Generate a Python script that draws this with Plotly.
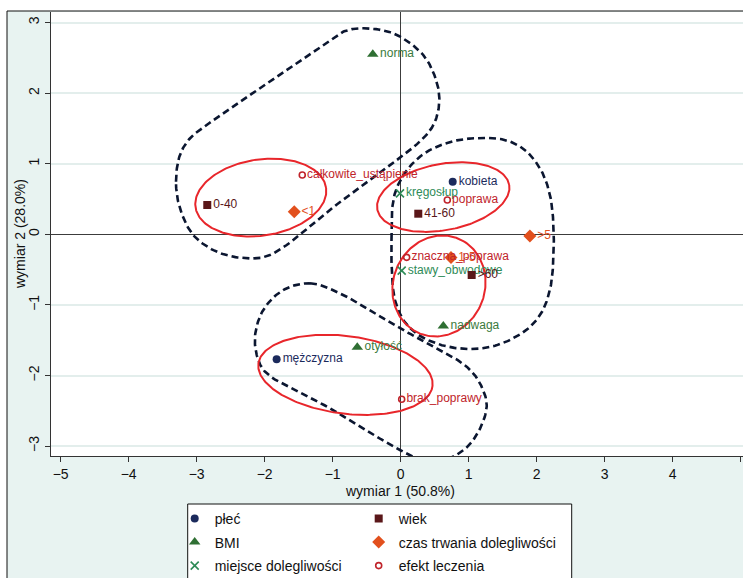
import numpy as np
import plotly.graph_objects as go

# ---- category coordinates (dimension 1, dimension 2) ----
plec_lab = ["kobieta", "mężczyzna"]
plec_x = [0.765, -1.824]
plec_y = [0.745, -1.771]

bmi_lab = ["norma", "nadwaga", "otyłość"]
bmi_x = [-0.41, 0.627, -0.638]
bmi_y = [2.55, -1.30, -1.60]

miejsce_lab = ["kręgosłup", "stawy_obwodowe"]
miejsce_x = [-0.01, 0.015]
miejsce_y = [0.58, -0.515]

wiek_lab = ["0-40", "41-60", ">60"]
wiek_x = [-2.844, 0.259, 1.044]
wiek_y = [0.415, 0.292, -0.576]

czas_lab = ["<1", "1-5", ">5"]
czas_x = [-1.565, 0.74, 1.90]
czas_y = [0.32, -0.33, -0.024]

efekt_lab = ["całkowite_ustąpienie", "poprawa", "znaczna_poprawa", "brak_poprawy"]
efekt_x = [-1.447, 0.686, 0.088, 0.015]
efekt_y = [0.84, 0.486, -0.326, -2.337]

# ---- cluster outlines (dashed) ----
hullA_x = [-3.304, -3.246, -3.099, -2.853, -1.947, -1.040, -0.844, -0.599, -0.109, 0.332,
           0.529, 0.568, 0.504, 0.332, -0.794, -1.922, -2.265, -2.706, -3.050, -3.246]
hullA_y = [0.745, 1.123, 1.360, 1.548, 2.150, 2.752, 2.870, 2.918, 2.847, 2.540,
           2.161, 1.878, 1.595, 1.360, 0.533, -0.293, -0.340, -0.246, -0.010, 0.368]

hullB_x = [-0.135, -0.128, -0.069, 0.093, 0.357, 0.725, 1.137, 1.534, 1.828, 2.063, 2.196, 2.247,
           2.247, 2.210, 2.093, 1.901, 1.607, 1.313, 1.019, 0.651, 0.284, 0.049, -0.084, -0.128]
hullB_y = [-0.081, 0.344, 0.627, 0.911, 1.152, 1.307, 1.364, 1.336, 1.194, 0.911, 0.557, 0.132,
           -0.293, -0.718, -1.072, -1.313, -1.497, -1.596, -1.625, -1.582, -1.440, -1.228, -0.931, -0.576]

hullC_x = [-1.334, -0.941, -0.010, 0.578, 0.971, 1.166, 1.265, 1.068, 0.774, 0.431, -0.010,
           -0.991, -1.971, -2.094, -2.143, -2.021, -1.726]
hullC_y = [-0.694, -0.813, -1.331, -1.639, -1.875, -2.110, -2.442, -2.914, -3.150, -3.235, -3.055,
           -2.489, -1.969, -1.780, -1.450, -1.072, -0.789]

# ---- confidence ellipses: centre x, centre y, semi-axis a, semi-axis b, angle (deg) ----
ell_cx = [-2.057, 0.626, 0.563, -0.812]
ell_cy = [0.521, 0.528, -0.732, -1.990]
ell_a = [0.97, 0.985, 0.73, 1.29]
ell_b = [0.54, 0.47, 0.67, 0.55]
ell_ang = [8, 10, 60, -7]

FONT = "Liberation Sans, Arial, sans-serif"


def closed_curve(xs, ys, per=16, alpha=0.5):
    """Closed centripetal Catmull-Rom curve through the outline vertices."""
    P = np.column_stack([xs, ys]).astype(float)
    n = len(P)
    segs = []
    for i in range(n):
        p0, p1, p2, p3 = P[(i - 1) % n], P[i], P[(i + 1) % n], P[(i + 2) % n]
        t0 = 0.0
        t1 = t0 + np.linalg.norm(p1 - p0) ** alpha
        t2 = t1 + np.linalg.norm(p2 - p1) ** alpha
        t3 = t2 + np.linalg.norm(p3 - p2) ** alpha
        t = np.linspace(t1, t2, per, endpoint=False)[:, None]
        a1 = (t1 - t) / (t1 - t0) * p0 + (t - t0) / (t1 - t0) * p1
        a2 = (t2 - t) / (t2 - t1) * p1 + (t - t1) / (t2 - t1) * p2
        a3 = (t3 - t) / (t3 - t2) * p2 + (t - t2) / (t3 - t2) * p3
        b1 = (t2 - t) / (t2 - t0) * a1 + (t - t0) / (t2 - t0) * a2
        b2 = (t3 - t) / (t3 - t1) * a2 + (t - t1) / (t3 - t1) * a3
        segs.append((t2 - t) / (t2 - t1) * b1 + (t - t1) / (t2 - t1) * b2)
    out = np.vstack(segs + [P[:1]])
    return out[:, 0], out[:, 1]


def ellipse(cx, cy, a, b, ang, n=240):
    t = np.linspace(0, 2 * np.pi, n)
    r = np.deg2rad(ang)
    x = cx + a * np.cos(t) * np.cos(r) - b * np.sin(t) * np.sin(r)
    y = cy + a * np.cos(t) * np.sin(r) + b * np.sin(t) * np.cos(r)
    return x, y


fig = go.Figure()

for hx, hy in [(hullA_x, hullA_y), (hullB_x, hullB_y), (hullC_x, hullC_y)]:
    cx, cy = closed_curve(hx, hy)
    fig.add_trace(go.Scatter(x=cx, y=cy, mode="lines", showlegend=False, hoverinfo="skip",
                             line=dict(color="#0b1630", width=2.6, dash="7px,4px")))

for i in range(len(ell_cx)):
    ex, ey = ellipse(ell_cx[i], ell_cy[i], ell_a[i], ell_b[i], ell_ang[i])
    fig.add_trace(go.Scatter(x=ex, y=ey, mode="lines", showlegend=False, hoverinfo="skip",
                             line=dict(color="#e8262b", width=2)))

groups = [
    # name, labels, x, y, symbol, size, marker colour, text colour, legend
    ("płeć", plec_lab, plec_x, plec_y, "circle", 8, "#1b2a5c", "#1b2a5c", "legend"),
    ("BMI", bmi_lab, bmi_x, bmi_y, "triangle-up", 10, "#2f6f33", "#3a7a3c", "legend"),
    ("miejsce dolegliwości", miejsce_lab, miejsce_x, miejsce_y, "x-thin", 8, "#2e8b57", "#2e8b57", "legend"),
    ("wiek", wiek_lab, wiek_x, wiek_y, "square", 8, "#5a1719", "#5a1719", "legend2"),
    ("czas trwania dolegliwości", czas_lab, czas_x, czas_y, "diamond", 10, "#e2501d", "#e2501d", "legend2"),
    ("efekt leczenia", efekt_lab, efekt_x, efekt_y, "circle-open", 6, "#c0242b", "#c0242b", "legend2"),
]

for name, lab, gx, gy, sym, size, mcol, tcol, leg in groups:
    marker = dict(symbol=sym, size=size, color=mcol)
    if sym in ("x-thin", "circle-open"):
        marker["line"] = dict(color=mcol, width=1.6)
    fig.add_trace(go.Scatter(
        x=gx, y=gy, mode="markers+text", name=name, text=lab,
        textposition="middle right", textfont=dict(family=FONT, size=12, color=tcol),
        marker=marker, legend=leg, legendgroup=name, cliponaxis=False,
    ))

# layout geometry (plot area in pixels: left 51, top 12, bottom 456)
L, T, B, W, H = 51, 12, 122, 743, 578
pw, ph = W - L, H - T - B


def px_x(p):
    return (p - L) / pw


def px_y(p):
    return (H - B - p) / ph


axis_common = dict(
    ticks="outside", ticklen=5, tickwidth=1, tickcolor="#333333",
    showline=True, linecolor="#333333", linewidth=1,
    zeroline=True, zerolinecolor="#3c3c3c", zerolinewidth=1,
    tickfont=dict(family=FONT, size=14, color="#111111"),
)

legend_common = dict(
    xanchor="left", yanchor="top", y=px_y(503),
    bgcolor="rgba(0,0,0,0)", borderwidth=0, traceorder="grouped", tracegroupgap=2.3,
    font=dict(family=FONT, size=14, color="#111111"),
)

fig.update_layout(
    width=W, height=H, autosize=False,
    margin=dict(l=L, r=0, t=T, b=B, autoexpand=False),
    paper_bgcolor="white", plot_bgcolor="white",
    font=dict(family=FONT, color="#111111"),
    xaxis=dict(range=[-5.142, 5.034], tickvals=list(range(-5, 6)), showgrid=False, **axis_common),
    yaxis=dict(range=[-3.14, 3.149], tickvals=list(range(-3, 4)), tickangle=-90,
               showgrid=True, gridcolor="#e3eeec", gridwidth=1.5, **axis_common),
    legend=dict(x=px_x(174.7), **legend_common),
    legend2=dict(x=px_x(358.7), **legend_common),
    shapes=[
        dict(type="rect", xref="paper", yref="paper", layer="below",
             x0=px_x(7), x1=1.05, y0=px_y(640), y1=px_y(11),
             fillcolor="#e8f3f1", line=dict(color="#111111", width=1)),
        dict(type="rect", xref="paper", yref="paper", layer="below",
             x0=0, x1=1, y0=0, y1=1, fillcolor="white", line=dict(width=0)),
        dict(type="rect", xref="paper", yref="paper", layer="below",
             x0=px_x(187.7), x1=px_x(571.7), y0=px_y(640), y1=px_y(504),
             fillcolor="white", line=dict(color="#111111", width=1)),
    ],
    annotations=[
        dict(text="wymiar 1 (50.8%)", xref="paper", yref="paper", x=px_x(400), y=px_y(491),
             xanchor="center", yanchor="middle", showarrow=False,
             font=dict(family=FONT, size=14, color="#111111")),
        dict(text="wymiar 2 (28.0%)", xref="paper", yref="paper", x=px_x(20), y=0.5,
             xanchor="center", yanchor="middle", textangle=-90, showarrow=False,
             font=dict(family=FONT, size=14, color="#111111")),
    ],
)

fig.write_html("out.html")
